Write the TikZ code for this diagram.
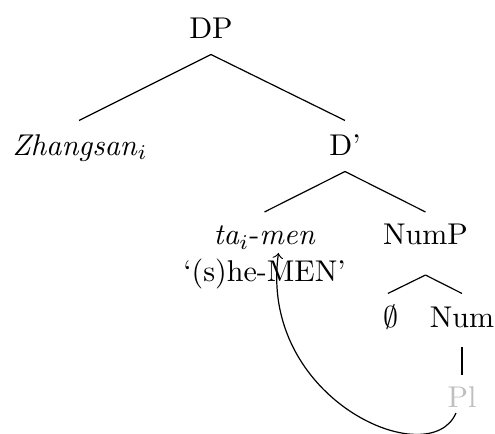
\documentclass[tikz,border=0pt]{standalone}
\begin{document}
\begin{tikzpicture}[x=0.333pt,y=-0.333pt,
  lbl/.style={anchor=base,inner sep=0pt},
  br/.style={line width=0.4pt}]
\useasboundingbox (0,0) rectangle (495,434);
\node[lbl] (DP) at (211,38) {DP};
\node[lbl] (Zh) at (80,155) {\textit{Zhangsan}$_i$};
\node[lbl] (Dbar) at (345,155) {D'};
\node[lbl] (ta) at (264.5,245) {\textit{ta}$_i$-\textit{men}};
\node[lbl] (gl) at (264.5,282) {`(s)he-MEN'};
\node[lbl] (NumP) at (425.5,245) {NumP};
\node[lbl] (empty) at (391.5,328) {$\emptyset$};
\node[lbl] (Num) at (462,328) {Num};
\node[lbl,text=black!25] (Pl) at (462,408) {Pl};
\draw[br] ([yshift=-5.5pt]DP.base) -- ([xshift=-0.3pt,yshift=11.5pt]Zh.base);
\draw[br] ([yshift=-5.5pt]DP.base) -- ([yshift=11.5pt]Dbar.base);
\draw[br] ([yshift=-5.5pt]Dbar.base) -- ([yshift=11pt]ta.base);
\draw[br] ([yshift=-5.5pt]Dbar.base) -- ([yshift=11pt]NumP.base);
\draw[br] ([yshift=-10pt]NumP.base) -- ([xshift=-1.2pt,yshift=11.5pt]empty.base);
\draw[br] ([yshift=-10pt]NumP.base) -- ([yshift=11.5pt]Num.base);
\draw[br] ([yshift=-6.3pt]Num.base) -- ([yshift=11pt]Pl.base);
\draw[br,->] ([xshift=-2pt,yshift=-1.67pt]Pl.base) .. controls +(-8.66pt,-20.3pt) and +(-6.66pt,-48.95pt) .. ([xshift=4.66pt,yshift=-2.66pt]ta.base);
\end{tikzpicture}
\end{document}
